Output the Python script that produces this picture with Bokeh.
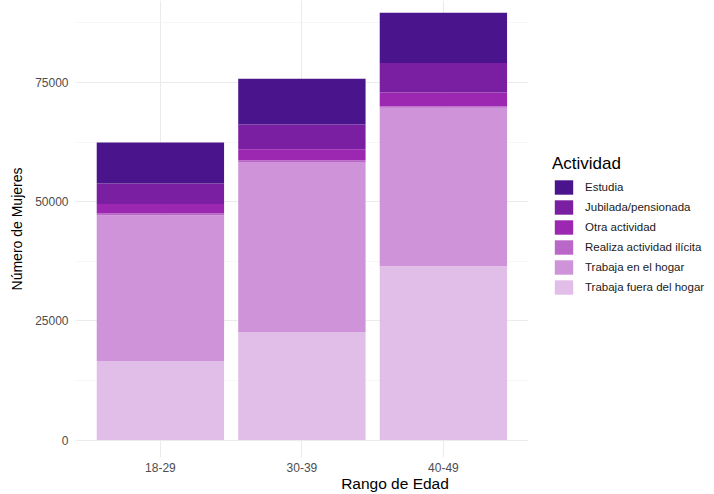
from bokeh.plotting import figure
from bokeh.models import (ColumnDataSource, Range1d, FixedTicker,
                          BasicTickFormatter, Legend, LegendItem)
from bokeh.embed import file_html
from bokeh.resources import INLINE

# ---- data ----
edades = ["18-29", "30-39", "40-49"]
actividades = ["Trabaja fuera del hogar", "Trabaja en el hogar",
               "Realiza actividad ilícita", "Otra actividad",
               "Jubilada/pensionada", "Estudia"]
trabaja_fuera = [16550, 22630, 36450]
trabaja_hogar = [30600, 35680, 33250]
actividad_ilicita = [350, 350, 280]
otra_actividad = [2000, 2300, 2930]
jubilada = [4300, 5230, 6140]
estudia = [8600, 9560, 10550]
colores = ["#E1BEE7", "#CE93D8", "#BA68C8", "#9C27B0", "#7B1FA2", "#4A148C"]
y_ticks = [0, 25000, 50000, 75000]
y_minor = [12500, 37500, 62500, 87500]

# category slots (position of each age group on the x scale)
x_pos = [i + 0.5 for i in range(len(edades))]

keys = ["fuera", "hogar", "ilicita", "otra", "jubilada", "estudia"]
source = ColumnDataSource(dict(x=x_pos, edad=edades, fuera=trabaja_fuera, hogar=trabaja_hogar,
                               ilicita=actividad_ilicita, otra=otra_actividad,
                               jubilada=jubilada, estudia=estudia))

FONT = "Liberation Sans"
x_start = -0.1
x_end = len(edades) + 0.1

p = figure(width=714, height=494, output_backend="svg", toolbar_location=None,
           x_range=Range1d(x_start, 4.416),
           y_range=Range1d(-3667, 92180),
           min_border_left=75, min_border_right=0, min_border_top=0, min_border_bottom=0)
p.outline_line_color = None
p.background_fill_color = "white"

rs = p.vbar_stack(keys, x="x", width=0.9, color=colores, line_color=None, source=source)

p.xaxis.ticker = FixedTicker(ticks=x_pos, minor_ticks=[])
p.xaxis.major_label_overrides = {x: e for x, e in zip(x_pos, edades)}
p.yaxis.ticker = FixedTicker(ticks=y_ticks, minor_ticks=y_minor)
p.yaxis.formatter = BasicTickFormatter(use_scientific=False)

# grids (limited to the panel, not under the legend)
p.xgrid.grid_line_color = "#EBEBEB"
p.xgrid.grid_line_width = 1.1
p.ygrid.grid_line_color = "#EBEBEB"
p.ygrid.grid_line_width = 1.1
p.ygrid.minor_grid_line_color = "#F2F2F2"
p.ygrid.minor_grid_line_width = 0.6
p.ygrid.cross_bounds = (x_start, x_end)

for ax in (p.xaxis[0], p.yaxis[0]):
    ax.axis_line_color = None
    ax.major_tick_line_color = None
    ax.minor_tick_line_color = None
    ax.major_tick_out = 0
    ax.major_tick_in = 0
    ax.minor_tick_out = 0
    ax.minor_tick_in = 0
    ax.major_label_text_font = FONT
    ax.major_label_text_font_size = "12px"
    ax.major_label_text_color = "#4D4D4D"
    ax.axis_label_text_font = FONT
    ax.axis_label_text_font_style = "normal"
    ax.axis_label_text_color = "black"

p.xaxis.axis_label = "Rango de Edad"
p.xaxis.axis_label_text_font_size = "15.5px"
p.xaxis.major_label_standoff = 5
p.xaxis.axis_label_standoff = 0

p.yaxis.axis_label = "Número de Mujeres"
p.yaxis.axis_label_text_font_size = "14px"
p.yaxis.major_label_standoff = 7
p.yaxis.axis_label_standoff = 7

items = [LegendItem(label=name, renderers=[r]) for name, r in zip(actividades, rs)]
items.reverse()
legend = Legend(items=items, location=(477, 161), title="Actividad",
                title_text_font=FONT, title_text_font_size="17px", title_text_font_style="normal",
                title_text_color="black", title_standoff=4,
                label_text_font=FONT, label_text_font_size="11.5px", label_text_color="#1A1A1A",
                glyph_width=23, glyph_height=18, label_height=18, spacing=2,
                label_standoff=10, padding=0, margin=0,
                border_line_color=None, background_fill_alpha=0)
p.add_layout(legend, "center")

open("out.html", "w").write(file_html(p, INLINE))
